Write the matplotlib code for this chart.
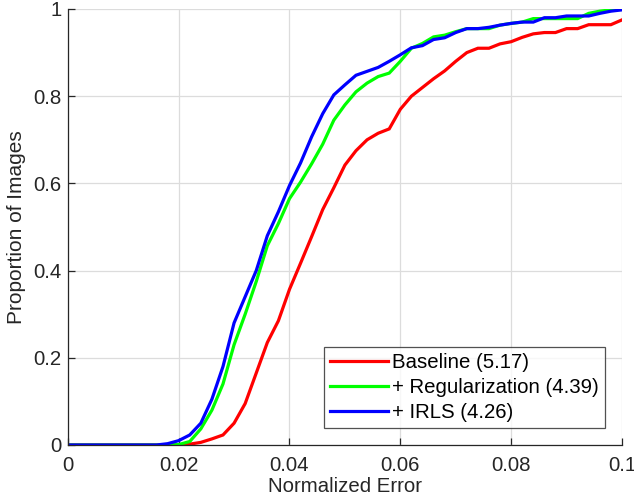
import numpy as np
import matplotlib
matplotlib.use("Agg")
import matplotlib.pyplot as plt

plt.rcParams['font.family'] = ['Liberation Sans', 'DejaVu Sans']

x_err = [i * 0.002 for i in range(51)]

baseline = [0, 0, 0, 0, 0, 0, 0, 0, 0, 0, 0,
            0.002, 0.006, 0.014, 0.023, 0.05, 0.095, 0.165, 0.235, 0.285, 0.357,
            0.417, 0.478, 0.54, 0.59, 0.642, 0.675, 0.70, 0.715, 0.725, 0.77,
            0.80, 0.82, 0.84, 0.858, 0.88, 0.90, 0.91, 0.91, 0.92, 0.925,
            0.935, 0.943, 0.946, 0.946, 0.955, 0.955, 0.964, 0.964, 0.964, 0.975]

regularization = [0, 0, 0, 0, 0, 0, 0, 0, 0, 0, 0.001,
                  0.008, 0.037, 0.08, 0.14, 0.23, 0.30, 0.375, 0.457, 0.508, 0.565,
                  0.603, 0.645, 0.69, 0.745, 0.78, 0.81, 0.83, 0.845, 0.853, 0.88,
                  0.91, 0.921, 0.936, 0.94, 0.948, 0.955, 0.955, 0.955, 0.963, 0.967,
                  0.97, 0.978, 0.978, 0.978, 0.978, 0.978, 0.99, 0.995, 0.998, 1.0]

irls = [0, 0, 0, 0, 0, 0, 0, 0, 0, 0.003, 0.01,
        0.023, 0.05, 0.105, 0.18, 0.28, 0.34, 0.40, 0.48, 0.535, 0.595,
        0.647, 0.707, 0.76, 0.803, 0.826, 0.848, 0.857, 0.866, 0.88, 0.895,
        0.911, 0.916, 0.93, 0.934, 0.946, 0.955, 0.955, 0.958, 0.963, 0.967,
        0.97, 0.97, 0.98, 0.98, 0.984, 0.984, 0.984, 0.99, 0.995, 0.998]

labels = ['Baseline (5.17)', '+ Regularization (4.39)', '+ IRLS (4.26)']
colors = ['#ff0000', '#00ff00', '#0000ff']

x_ticks = [0, 0.02, 0.04, 0.06, 0.08, 0.1]
x_ticklabels = ['0', '0.02', '0.04', '0.06', '0.08', '0.1']
y_ticks = [0, 0.2, 0.4, 0.6, 0.8, 1]
y_ticklabels = ['0', '0.2', '0.4', '0.6', '0.8', '1']

fig = plt.figure(figsize=(6.34, 5.0), dpi=100)
ax = fig.add_axes([0.107, 0.11, 0.874, 0.872])

for series, lab, col in zip([baseline, regularization, irls], labels, colors):
    ax.plot(x_err, series, color=col, lw=2.3, label=lab, solid_joinstyle='miter')

ax.set_xlim(0, 0.1)
ax.set_ylim(0, 1)
ax.set_xticks(x_ticks)
ax.set_xticklabels(x_ticklabels)
ax.set_yticks(y_ticks)
ax.set_yticklabels(y_ticklabels)
ax.grid(True, color='#dcdcdc', lw=0.9)
ax.set_axisbelow(True)
for s in ['top', 'right']:
    ax.spines[s].set_visible(False)
for s in ['left', 'bottom']:
    ax.spines[s].set_color('#262626')
    ax.spines[s].set_linewidth(0.9)
ax.tick_params(direction='in', length=5, width=0.9, color='#262626',
               labelsize=14.7, labelcolor='#262626')
ax.tick_params(axis='x', pad=8)
ax.tick_params(axis='y', pad=4.5)
ax.set_xlabel('Normalized Error', fontsize=14.7, color='#262626', labelpad=1)
ax.set_ylabel('Proportion of Images', fontsize=15, color='#262626', labelpad=5)

leg = ax.legend(loc='lower right', bbox_to_anchor=(0.969, 0.039), fontsize=14.7,
                frameon=True, fancybox=False, edgecolor='#262626',
                handlelength=2.85, handletextpad=0.2, borderpad=0.3,
                labelspacing=0.29, borderaxespad=0)
leg.get_frame().set_linewidth(0.9)

fig.savefig('out.png', dpi=100)
